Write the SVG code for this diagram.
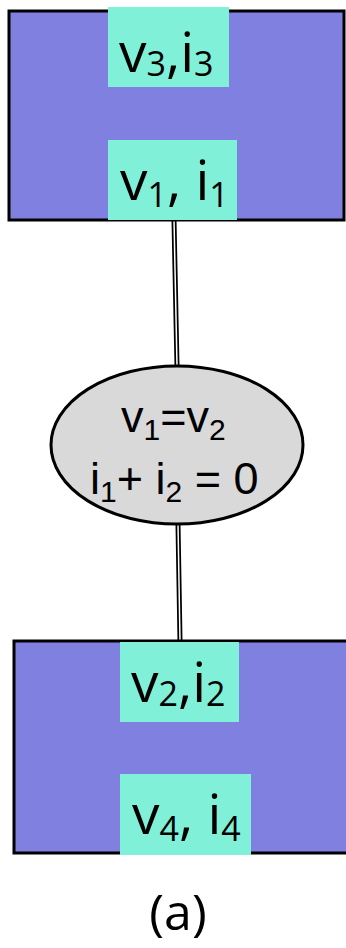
<svg xmlns="http://www.w3.org/2000/svg" width="346" height="948" viewBox="0 0 346 948">
<style>
.blk{fill:#8080e0;stroke:#000;stroke-width:3}
.port{fill:#80f0d8}
.lbl{font-family:"Open Sans","Liberation Sans",sans-serif;fill:#000}
.big{font-size:55px}
.sub{font-size:34px}
.eq{font-family:"Liberation Sans","Open Sans",sans-serif;font-size:45px}
.esub{font-size:30px}
.wire{stroke:#000;stroke-width:5;fill:none}
.wirein{stroke:#fff;stroke-width:1.5;fill:none}
</style>
<rect width="346" height="948" fill="#fff"/>
<g id="connectors">
<path class="wire" d="M174 220 L177 366"/>
<path class="wirein" d="M174 220 L177 366"/>
<path class="wire" d="M178 524 L180 641"/>
<path class="wirein" d="M178 524 L180 641"/>
</g>
<g id="block1">
<rect class="blk" x="9" y="11" width="335" height="209"/>
<rect class="port" x="108" y="7" width="121" height="80"/>
<text class="lbl big" x="119" y="72">v<tspan class="sub" dy="4">3</tspan><tspan dy="-4">,i</tspan><tspan class="sub" dy="4">3</tspan></text>
<rect class="port" x="108" y="140" width="129" height="80"/>
<text class="lbl big" x="120" y="200">v<tspan class="sub" dy="7">1</tspan><tspan dy="-7">, i</tspan><tspan class="sub" dy="7">1</tspan></text>
</g>
<g id="constraint">
<ellipse cx="177" cy="445" rx="126" ry="79" fill="#d9d9d9" stroke="#000" stroke-width="3"/>
<text class="eq" x="121" y="432">v<tspan class="esub" dy="8">1</tspan><tspan dy="-8">=v</tspan><tspan class="esub" dy="8">2</tspan></text>
<text class="eq" x="90" y="494">i<tspan class="esub" dy="8">1</tspan><tspan dy="-8">+ i</tspan><tspan class="esub" dy="8">2</tspan><tspan dy="-8"> = 0</tspan></text>
</g>
<g id="block2">
<rect class="blk" x="14" y="641" width="340" height="212"/>
<rect class="port" x="120" y="642" width="119" height="80"/>
<text class="lbl big" x="131" y="702">v<tspan class="sub" dy="4">2</tspan><tspan dy="-4">,i</tspan><tspan class="sub" dy="4">2</tspan></text>
<rect class="port" x="120" y="774" width="131" height="81"/>
<text class="lbl big" x="132" y="834">v<tspan class="sub" dy="7">4</tspan><tspan dy="-7">, i</tspan><tspan class="sub" dy="7">4</tspan></text>
</g>
<text class="lbl" x="178" y="930" font-size="50" text-anchor="middle">(a)</text>
</svg>
